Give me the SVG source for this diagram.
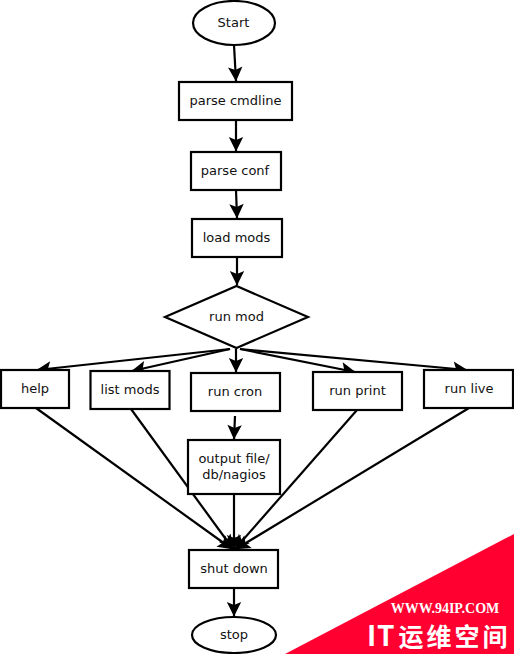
<svg xmlns="http://www.w3.org/2000/svg" width="514" height="654" viewBox="0 0 514 654">
<style>
.n{fill:#fff;stroke:#000;stroke-width:2.200}
.t{font-family:"DejaVu Sans",sans-serif;font-size:13px;fill:#111;text-anchor:middle}
.c{fill:none;stroke:#000;stroke-width:2.200;marker-end:url(#a)}
</style>
<defs>
<marker id="a" markerUnits="userSpaceOnUse" markerWidth="16" markerHeight="16" viewBox="0 0 16 16" refX="14.500" refY="8" orient="auto" overflow="visible">
<path d="M0.500 0.800L15 8L0.500 15.200L3.500 8Z" fill="#000"/>
</marker>
</defs>
<rect width="514" height="654" fill="#fff"/>
<polygon points="514,534 285,654 514,654" fill="#ff0030"/>
<text x="445" y="613" font-family="'Liberation Serif',serif" font-weight="700" font-size="14" fill="#fff" text-anchor="middle">WWW.94IP.COM</text>
<text y="646" font-family="'Noto Sans CJK SC',sans-serif" font-weight="700" font-size="25" fill="#fff"><tspan x="367 377" font-size="28">IT</tspan><tspan x="398.500 426.500 454.500 482.500">运维空间</tspan></text>
<g id="connectors">
<path class="c" d="M234 45L236 81"/>
<path class="c" d="M236 120L236 151"/>
<path class="c" d="M236 190L237 218"/>
<path class="c" d="M237 257L237 285"/>
<path class="c" d="M230 349L37 370"/>
<path class="c" d="M230 349L132 371"/>
<path class="c" d="M236 349L236 372"/>
<path class="c" d="M240 349L355 372"/>
<path class="c" d="M240 349L467 370"/>
<path class="c" d="M235 416L234 439"/>
<path class="c" d="M234 494L234 549"/>
<path class="c" d="M36 408L232 549"/>
<path class="c" d="M131 409L233 549"/>
<path class="c" d="M357 410L235 549"/>
<path class="c" d="M469 408L236 549"/>
<path class="c" d="M234 588L234 616"/>
</g>
<g id="start"><ellipse class="n" cx="234" cy="23" rx="41" ry="22"/><text class="t" x="233.500" y="27">Start</text></g>
<g id="parse-cmdline"><rect class="n" x="179" y="82" width="113" height="38"/><text class="t" x="235.500" y="105">parse cmdline</text></g>
<g id="parse-conf"><rect class="n" x="191" y="152" width="90" height="38"/><text class="t" x="235" y="175">parse conf</text></g>
<g id="load-mods"><rect class="n" x="192" y="219" width="90" height="38"/><text class="t" x="236.500" y="242">load mods</text></g>
<g id="run-mod"><polygon class="n" points="165,317 236.500,286 308,317 236.500,348"/><text class="t" x="236.500" y="321">run mod</text></g>
<g id="help"><rect class="n" x="1" y="370" width="68" height="38"/><text class="t" x="35" y="393">help</text></g>
<g id="list-mods"><rect class="n" x="90.500" y="371" width="79" height="38"/><text class="t" x="130" y="394">list mods</text></g>
<g id="run-cron"><rect class="n" x="191" y="373" width="89" height="38"/><text class="t" x="235" y="396">run cron</text></g>
<g id="run-print"><rect class="n" x="313" y="372" width="89" height="38"/><text class="t" x="357.500" y="395">run print</text></g>
<g id="run-live"><rect class="n" x="424" y="370" width="89" height="38"/><text class="t" x="469" y="393">run live</text></g>
<g id="output"><rect class="n" x="188" y="440" width="92" height="54"/><text class="t" x="234" y="463">output file/</text><text class="t" x="234" y="479">db/nagios</text></g>
<g id="shut-down"><rect class="n" x="189" y="550" width="89" height="38"/><text class="t" x="234" y="573">shut down</text></g>
<g id="stop"><ellipse class="n" cx="234" cy="635" rx="42" ry="18"/><text class="t" x="234" y="639">stop</text></g>
</svg>
